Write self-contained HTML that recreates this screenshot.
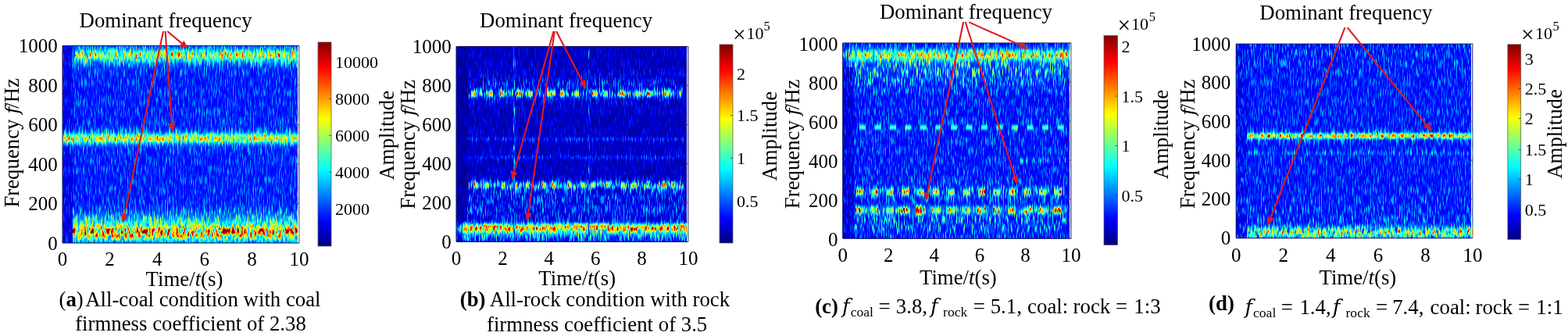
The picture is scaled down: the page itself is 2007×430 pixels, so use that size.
<!DOCTYPE html>
<html><head><meta charset="utf-8"><title>Spectrogram figure</title>
<style>
html,body{margin:0;padding:0;background:#fff;overflow:hidden;}
svg{display:block;}
text{font-family:"Liberation Serif", "Times New Roman", serif;fill:#000;}
.tk{font-size:25px;}
.cb{font-size:22px;}
.lb{font-size:26.8px;}
.sb{font-size:17.6px;}
</style></head><body>
<svg width="2007" height="430" viewBox="0 0 2007 430">
<defs>
<linearGradient id="jet" x1="0" y1="1" x2="0" y2="0"><stop offset="0" stop-color="#000080"/><stop offset="0.125" stop-color="#0000ff"/><stop offset="0.375" stop-color="#00ffff"/><stop offset="0.625" stop-color="#ffff00"/><stop offset="0.875" stop-color="#ff0000"/><stop offset="1" stop-color="#800000"/></linearGradient>
</defs>
<rect width="2007" height="430" fill="#fff"/>

<filter id="fa" filterUnits="userSpaceOnUse" x="80" y="58.5" width="303" height="252.5" color-interpolation-filters="sRGB">
<feTurbulence type="fractalNoise" baseFrequency="0.7 0.08" numOctaves="2" seed="3" result="t"/>
<feColorMatrix in="t" type="matrix" values="1 0 0 0 0 1 0 0 0 0 1 0 0 0 0 0 0 0 0 1" result="n"/>
<feComponentTransfer in="n" result="ns"><feFuncR type="linear" slope="2.5" intercept="-0.75"/><feFuncG type="linear" slope="2.5" intercept="-0.75"/><feFuncB type="linear" slope="2.5" intercept="-0.75"/></feComponentTransfer>
<feComponentTransfer in="ns" result="ng"><feFuncR type="gamma" exponent="2.5"/><feFuncG type="gamma" exponent="2.5"/><feFuncB type="gamma" exponent="2.5"/></feComponentTransfer>
<feColorMatrix in="SourceGraphic" type="matrix" values="1 0 0 0 0 1 0 0 0 0 1 0 0 0 0 0 0 0 1 0" result="sa"/>
<feColorMatrix in="SourceGraphic" type="matrix" values="0 1 0 0 0 0 1 0 0 0 0 1 0 0 0 0 0 0 1 0" result="sb"/>
<feComposite in="sb" in2="ng" operator="arithmetic" k1="1" k2="0" k3="0" k4="0" result="pb"/>
<feComposite in="sa" in2="pb" operator="arithmetic" k1="0" k2="1" k3="1" k4="0" result="I1"/>
<feTurbulence type="fractalNoise" baseFrequency="0.35 0.12" numOctaves="2" seed="53" result="t2"/>
<feColorMatrix in="t2" type="matrix" values="1 0 0 0 0 1 0 0 0 0 1 0 0 0 0 0 0 0 0 1" result="n2"/>
<feComponentTransfer in="n2" result="ns2"><feFuncR type="linear" slope="2.5" intercept="-0.75"/><feFuncG type="linear" slope="2.5" intercept="-0.75"/><feFuncB type="linear" slope="2.5" intercept="-0.75"/></feComponentTransfer>
<feColorMatrix in="SourceGraphic" type="matrix" values="0 0 1 0 0 0 0 1 0 0 0 0 1 0 0 0 0 0 1 0" result="sc"/>
<feComposite in="sc" in2="ns2" operator="arithmetic" k1="1" k2="0" k3="0" k4="0" result="pc"/>
<feComposite in="I1" in2="pc" operator="arithmetic" k1="0" k2="1" k3="1" k4="0" result="I"/>
<feComponentTransfer in="I"><feFuncR type="table" tableValues="0 0 0 0 0.5 1 1 1 0.5"/><feFuncG type="table" tableValues="0 0 0.5 1 1 1 0.5 0 0"/><feFuncB type="table" tableValues="0.5 1 1 1 0.5 0 0 0 0"/></feComponentTransfer>
<feGaussianBlur stdDeviation="0.55"/>
</filter>
<g filter="url(#fa)">
<rect x="80" y="58.5" width="303" height="252.5" fill="#1f2a00"/>
<rect x="80" y="58.5" width="13" height="252.5" fill="#121f00" opacity="0.8"/>
<linearGradient id="ga0" gradientUnits="userSpaceOnUse" x1="0" y1="45" x2="0" y2="99"><stop offset="0.000" stop-color="#2e5700" stop-opacity="0.011"/><stop offset="0.083" stop-color="#2e5700" stop-opacity="0.044"/><stop offset="0.167" stop-color="#2e5700" stop-opacity="0.135"/><stop offset="0.250" stop-color="#2e5700" stop-opacity="0.325"/><stop offset="0.333" stop-color="#2e5700" stop-opacity="0.607"/><stop offset="0.417" stop-color="#2e5700" stop-opacity="0.882"/><stop offset="0.500" stop-color="#2e5700" stop-opacity="1.000"/><stop offset="0.583" stop-color="#2e5700" stop-opacity="0.882"/><stop offset="0.667" stop-color="#2e5700" stop-opacity="0.607"/><stop offset="0.750" stop-color="#2e5700" stop-opacity="0.325"/><stop offset="0.833" stop-color="#2e5700" stop-opacity="0.135"/><stop offset="0.917" stop-color="#2e5700" stop-opacity="0.044"/><stop offset="1.000" stop-color="#2e5700" stop-opacity="0.011"/></linearGradient>
<rect x="92" y="45" width="291" height="54" fill="url(#ga0)"/>
<linearGradient id="ga1" gradientUnits="userSpaceOnUse" x1="0" y1="56" x2="0" y2="86"><stop offset="0.000" stop-color="#455954" stop-opacity="0.011"/><stop offset="0.083" stop-color="#455954" stop-opacity="0.044"/><stop offset="0.167" stop-color="#455954" stop-opacity="0.135"/><stop offset="0.250" stop-color="#455954" stop-opacity="0.325"/><stop offset="0.333" stop-color="#455954" stop-opacity="0.607"/><stop offset="0.417" stop-color="#455954" stop-opacity="0.882"/><stop offset="0.500" stop-color="#455954" stop-opacity="1.000"/><stop offset="0.583" stop-color="#455954" stop-opacity="0.882"/><stop offset="0.667" stop-color="#455954" stop-opacity="0.607"/><stop offset="0.750" stop-color="#455954" stop-opacity="0.325"/><stop offset="0.833" stop-color="#455954" stop-opacity="0.135"/><stop offset="0.917" stop-color="#455954" stop-opacity="0.044"/><stop offset="1.000" stop-color="#455954" stop-opacity="0.011"/></linearGradient>
<rect x="96" y="56" width="287" height="30" fill="url(#ga1)"/>
<linearGradient id="ga2" gradientUnits="userSpaceOnUse" x1="0" y1="156" x2="0" y2="198"><stop offset="0.000" stop-color="#305400" stop-opacity="0.011"/><stop offset="0.083" stop-color="#305400" stop-opacity="0.044"/><stop offset="0.167" stop-color="#305400" stop-opacity="0.135"/><stop offset="0.250" stop-color="#305400" stop-opacity="0.325"/><stop offset="0.333" stop-color="#305400" stop-opacity="0.607"/><stop offset="0.417" stop-color="#305400" stop-opacity="0.882"/><stop offset="0.500" stop-color="#305400" stop-opacity="1.000"/><stop offset="0.583" stop-color="#305400" stop-opacity="0.882"/><stop offset="0.667" stop-color="#305400" stop-opacity="0.607"/><stop offset="0.750" stop-color="#305400" stop-opacity="0.325"/><stop offset="0.833" stop-color="#305400" stop-opacity="0.135"/><stop offset="0.917" stop-color="#305400" stop-opacity="0.044"/><stop offset="1.000" stop-color="#305400" stop-opacity="0.011"/></linearGradient>
<rect x="80" y="156" width="303" height="42" fill="url(#ga2)"/>
<linearGradient id="ga3" gradientUnits="userSpaceOnUse" x1="0" y1="165.6" x2="0" y2="188.4"><stop offset="0.000" stop-color="#4c406b" stop-opacity="0.011"/><stop offset="0.083" stop-color="#4c406b" stop-opacity="0.044"/><stop offset="0.167" stop-color="#4c406b" stop-opacity="0.135"/><stop offset="0.250" stop-color="#4c406b" stop-opacity="0.325"/><stop offset="0.333" stop-color="#4c406b" stop-opacity="0.607"/><stop offset="0.417" stop-color="#4c406b" stop-opacity="0.882"/><stop offset="0.500" stop-color="#4c406b" stop-opacity="1.000"/><stop offset="0.583" stop-color="#4c406b" stop-opacity="0.882"/><stop offset="0.667" stop-color="#4c406b" stop-opacity="0.607"/><stop offset="0.750" stop-color="#4c406b" stop-opacity="0.325"/><stop offset="0.833" stop-color="#4c406b" stop-opacity="0.135"/><stop offset="0.917" stop-color="#4c406b" stop-opacity="0.044"/><stop offset="1.000" stop-color="#4c406b" stop-opacity="0.011"/></linearGradient>
<rect x="80" y="165.6" width="303" height="22.8" fill="url(#ga3)"/>
<linearGradient id="ga4" gradientUnits="userSpaceOnUse" x1="0" y1="256" x2="0" y2="310"><stop offset="0.000" stop-color="#336b00" stop-opacity="0.011"/><stop offset="0.083" stop-color="#336b00" stop-opacity="0.044"/><stop offset="0.167" stop-color="#336b00" stop-opacity="0.135"/><stop offset="0.250" stop-color="#336b00" stop-opacity="0.325"/><stop offset="0.333" stop-color="#336b00" stop-opacity="0.607"/><stop offset="0.417" stop-color="#336b00" stop-opacity="0.882"/><stop offset="0.500" stop-color="#336b00" stop-opacity="1.000"/><stop offset="0.583" stop-color="#336b00" stop-opacity="0.882"/><stop offset="0.667" stop-color="#336b00" stop-opacity="0.607"/><stop offset="0.750" stop-color="#336b00" stop-opacity="0.325"/><stop offset="0.833" stop-color="#336b00" stop-opacity="0.135"/><stop offset="0.917" stop-color="#336b00" stop-opacity="0.044"/><stop offset="1.000" stop-color="#336b00" stop-opacity="0.011"/></linearGradient>
<rect x="93" y="256" width="290" height="54" fill="url(#ga4)"/>
<linearGradient id="ga5" gradientUnits="userSpaceOnUse" x1="0" y1="274.5" x2="0" y2="319.5"><stop offset="0.000" stop-color="#5400b8" stop-opacity="0.011"/><stop offset="0.083" stop-color="#5400b8" stop-opacity="0.044"/><stop offset="0.167" stop-color="#5400b8" stop-opacity="0.135"/><stop offset="0.250" stop-color="#5400b8" stop-opacity="0.325"/><stop offset="0.333" stop-color="#5400b8" stop-opacity="0.607"/><stop offset="0.417" stop-color="#5400b8" stop-opacity="0.882"/><stop offset="0.500" stop-color="#5400b8" stop-opacity="1.000"/><stop offset="0.583" stop-color="#5400b8" stop-opacity="0.882"/><stop offset="0.667" stop-color="#5400b8" stop-opacity="0.607"/><stop offset="0.750" stop-color="#5400b8" stop-opacity="0.325"/><stop offset="0.833" stop-color="#5400b8" stop-opacity="0.135"/><stop offset="0.917" stop-color="#5400b8" stop-opacity="0.044"/><stop offset="1.000" stop-color="#5400b8" stop-opacity="0.011"/></linearGradient>
<rect x="93" y="274.5" width="290" height="45" fill="url(#ga5)"/>
</g>
<rect x="381" y="58.5" width="1.2" height="252.5" fill="#f4f6fb"/>
<path d="M383,58.5 L80,58.5 L80,311 L383,311" fill="none" stroke="#14145a" stroke-width="1"/>
<line x1="383" y1="58" x2="383" y2="311.5" stroke="#7a7a7a" stroke-width="1.1"/>
<line x1="380" y1="260.5" x2="383" y2="260.5" stroke="#505050" stroke-width="1"/>
<line x1="380" y1="210" x2="383" y2="210" stroke="#505050" stroke-width="1"/>
<line x1="380" y1="159.5" x2="383" y2="159.5" stroke="#505050" stroke-width="1"/>
<line x1="380" y1="109" x2="383" y2="109" stroke="#505050" stroke-width="1"/>
<text class="tk" x="80" y="340.1" text-anchor="middle">0</text>
<text class="tk" x="140.6" y="340.1" text-anchor="middle">2</text>
<text class="tk" x="201.2" y="340.1" text-anchor="middle">4</text>
<text class="tk" x="261.8" y="340.1" text-anchor="middle">6</text>
<text class="tk" x="322.4" y="340.1" text-anchor="middle">8</text>
<text class="tk" x="383" y="340.1" text-anchor="middle">10</text>
<text class="tk" x="73.8" y="319.8" text-anchor="end">0</text>
<text class="tk" x="73.8" y="269.3" text-anchor="end">200</text>
<text class="tk" x="73.8" y="218.8" text-anchor="end">400</text>
<text class="tk" x="73.8" y="168.3" text-anchor="end">600</text>
<text class="tk" x="73.8" y="117.8" text-anchor="end">800</text>
<text class="tk" x="73.8" y="67.3" text-anchor="end">1000</text>
<rect x="407" y="54" width="17" height="261" fill="url(#jet)" stroke="#505050" stroke-width="0.7"/>
<line x1="421" y1="267.2" x2="424" y2="267.2" stroke="#333" stroke-width="0.8"/>
<text class="cb" x="429" y="274.7">2000</text>
<line x1="421" y1="220.3" x2="424" y2="220.3" stroke="#333" stroke-width="0.8"/>
<text class="cb" x="429" y="227.8">4000</text>
<line x1="421" y1="173.3" x2="424" y2="173.3" stroke="#333" stroke-width="0.8"/>
<text class="cb" x="429" y="180.8">6000</text>
<line x1="421" y1="126.4" x2="424" y2="126.4" stroke="#333" stroke-width="0.8"/>
<text class="cb" x="429" y="133.9">8000</text>
<line x1="421" y1="79.4" x2="424" y2="79.4" stroke="#333" stroke-width="0.8"/>
<text class="cb" x="429" y="86.9">10000</text>
<text class="lb" x="101.6" y="35.4">Dominant frequency</text>
<text class="lb" x="186.6" y="366">Time/<tspan font-style="italic">t</tspan>(s)</text>
<text class="lb" transform="translate(23.6,265.6) rotate(-90)">Frequency <tspan font-style="italic" style="font-family:&quot;DejaVu Serif&quot;, serif;font-size:24.5px">f</tspan><tspan dx="-2">/Hz</tspan></text>
<text class="lb" transform="translate(503.6,230.5) rotate(-90)">Amplitude</text>
<line x1="209" y1="40" x2="158.82" y2="276.89" stroke="#df1a22" stroke-width="2.1"/><path d="M157,285.5 L154.88,273.81 L163.68,275.67 Z" fill="#df1a22"/>
<line x1="211.6" y1="40" x2="220.08" y2="160.22" stroke="#df1a22" stroke-width="2.1"/><path d="M220.7,169 L215.44,158.34 L224.41,157.71 Z" fill="#df1a22"/>
<line x1="214.3" y1="40" x2="234.28" y2="56.91" stroke="#df1a22" stroke-width="2.1"/><path d="M241,62.6 L229.7,58.93 L235.51,52.06 Z" fill="#df1a22"/>
<filter id="fb" filterUnits="userSpaceOnUse" x="584" y="59.5" width="297" height="249.8" color-interpolation-filters="sRGB">
<feTurbulence type="fractalNoise" baseFrequency="0.7 0.08" numOctaves="2" seed="7" result="t"/>
<feColorMatrix in="t" type="matrix" values="1 0 0 0 0 1 0 0 0 0 1 0 0 0 0 0 0 0 0 1" result="n"/>
<feComponentTransfer in="n" result="ns"><feFuncR type="linear" slope="2.5" intercept="-0.75"/><feFuncG type="linear" slope="2.5" intercept="-0.75"/><feFuncB type="linear" slope="2.5" intercept="-0.75"/></feComponentTransfer>
<feComponentTransfer in="ns" result="ng"><feFuncR type="gamma" exponent="2"/><feFuncG type="gamma" exponent="2"/><feFuncB type="gamma" exponent="2"/></feComponentTransfer>
<feColorMatrix in="SourceGraphic" type="matrix" values="1 0 0 0 0 1 0 0 0 0 1 0 0 0 0 0 0 0 1 0" result="sa"/>
<feColorMatrix in="SourceGraphic" type="matrix" values="0 1 0 0 0 0 1 0 0 0 0 1 0 0 0 0 0 0 1 0" result="sb"/>
<feComposite in="sb" in2="ng" operator="arithmetic" k1="1" k2="0" k3="0" k4="0" result="pb"/>
<feComposite in="sa" in2="pb" operator="arithmetic" k1="0" k2="1" k3="1" k4="0" result="I1"/>
<feTurbulence type="fractalNoise" baseFrequency="0.35 0.12" numOctaves="2" seed="57" result="t2"/>
<feColorMatrix in="t2" type="matrix" values="1 0 0 0 0 1 0 0 0 0 1 0 0 0 0 0 0 0 0 1" result="n2"/>
<feComponentTransfer in="n2" result="ns2"><feFuncR type="linear" slope="2.5" intercept="-0.75"/><feFuncG type="linear" slope="2.5" intercept="-0.75"/><feFuncB type="linear" slope="2.5" intercept="-0.75"/></feComponentTransfer>
<feColorMatrix in="SourceGraphic" type="matrix" values="0 0 1 0 0 0 0 1 0 0 0 0 1 0 0 0 0 0 1 0" result="sc"/>
<feComposite in="sc" in2="ns2" operator="arithmetic" k1="1" k2="0" k3="0" k4="0" result="pc"/>
<feComposite in="I1" in2="pc" operator="arithmetic" k1="0" k2="1" k3="1" k4="0" result="I"/>
<feComponentTransfer in="I"><feFuncR type="table" tableValues="0 0 0 0 0.5 1 1 1 0.5"/><feFuncG type="table" tableValues="0 0 0.5 1 1 1 0.5 0 0"/><feFuncB type="table" tableValues="0.5 1 1 1 0.5 0 0 0 0"/></feComponentTransfer>
<feGaussianBlur stdDeviation="0.55"/>
</filter>
<g filter="url(#fb)">
<rect x="584" y="59.5" width="297" height="249.8" fill="#081f00"/>
<linearGradient id="gb0" gradientUnits="userSpaceOnUse" x1="0" y1="81" x2="0" y2="147"><stop offset="0.000" stop-color="#0a4c00" stop-opacity="0.011"/><stop offset="0.083" stop-color="#0a4c00" stop-opacity="0.044"/><stop offset="0.167" stop-color="#0a4c00" stop-opacity="0.135"/><stop offset="0.250" stop-color="#0a4c00" stop-opacity="0.325"/><stop offset="0.333" stop-color="#0a4c00" stop-opacity="0.607"/><stop offset="0.417" stop-color="#0a4c00" stop-opacity="0.882"/><stop offset="0.500" stop-color="#0a4c00" stop-opacity="1.000"/><stop offset="0.583" stop-color="#0a4c00" stop-opacity="0.882"/><stop offset="0.667" stop-color="#0a4c00" stop-opacity="0.607"/><stop offset="0.750" stop-color="#0a4c00" stop-opacity="0.325"/><stop offset="0.833" stop-color="#0a4c00" stop-opacity="0.135"/><stop offset="0.917" stop-color="#0a4c00" stop-opacity="0.044"/><stop offset="1.000" stop-color="#0a4c00" stop-opacity="0.011"/></linearGradient>
<rect x="600" y="81" width="275" height="66" fill="url(#gb0)"/>
<linearGradient id="gb1" gradientUnits="userSpaceOnUse" x1="0" y1="111.6" x2="0" y2="128.4"><stop offset="0.000" stop-color="#1f8c00" stop-opacity="0.011"/><stop offset="0.083" stop-color="#1f8c00" stop-opacity="0.044"/><stop offset="0.167" stop-color="#1f8c00" stop-opacity="0.135"/><stop offset="0.250" stop-color="#1f8c00" stop-opacity="0.325"/><stop offset="0.333" stop-color="#1f8c00" stop-opacity="0.607"/><stop offset="0.417" stop-color="#1f8c00" stop-opacity="0.882"/><stop offset="0.500" stop-color="#1f8c00" stop-opacity="1.000"/><stop offset="0.583" stop-color="#1f8c00" stop-opacity="0.882"/><stop offset="0.667" stop-color="#1f8c00" stop-opacity="0.607"/><stop offset="0.750" stop-color="#1f8c00" stop-opacity="0.325"/><stop offset="0.833" stop-color="#1f8c00" stop-opacity="0.135"/><stop offset="0.917" stop-color="#1f8c00" stop-opacity="0.044"/><stop offset="1.000" stop-color="#1f8c00" stop-opacity="0.011"/></linearGradient>
<rect x="600" y="111.6" width="275" height="16.8" fill="url(#gb1)"/>
<linearGradient id="gb2" gradientUnits="userSpaceOnUse" x1="0" y1="98" x2="0" y2="120"><stop offset="0" stop-color="#1a7300" stop-opacity="0"/><stop offset="1" stop-color="#1a7300" stop-opacity="1"/></linearGradient>
<rect x="611" y="98" width="1.6" height="22" fill="url(#gb2)"/>
<linearGradient id="gb3" gradientUnits="userSpaceOnUse" x1="0" y1="90" x2="0" y2="120"><stop offset="0" stop-color="#1a7300" stop-opacity="0"/><stop offset="1" stop-color="#1a7300" stop-opacity="1"/></linearGradient>
<rect x="627" y="90" width="1.6" height="30" fill="url(#gb3)"/>
<linearGradient id="gb4" gradientUnits="userSpaceOnUse" x1="0" y1="108" x2="0" y2="120"><stop offset="0" stop-color="#1a7300" stop-opacity="0"/><stop offset="1" stop-color="#1a7300" stop-opacity="1"/></linearGradient>
<rect x="641" y="108" width="1.6" height="12" fill="url(#gb4)"/>
<linearGradient id="gb5" gradientUnits="userSpaceOnUse" x1="0" y1="102" x2="0" y2="120"><stop offset="0" stop-color="#1a7300" stop-opacity="0"/><stop offset="1" stop-color="#1a7300" stop-opacity="1"/></linearGradient>
<rect x="662" y="102" width="1.6" height="18" fill="url(#gb5)"/>
<linearGradient id="gb6" gradientUnits="userSpaceOnUse" x1="0" y1="95" x2="0" y2="120"><stop offset="0" stop-color="#1a7300" stop-opacity="0"/><stop offset="1" stop-color="#1a7300" stop-opacity="1"/></linearGradient>
<rect x="671" y="95" width="1.6" height="25" fill="url(#gb6)"/>
<linearGradient id="gb7" gradientUnits="userSpaceOnUse" x1="0" y1="105" x2="0" y2="120"><stop offset="0" stop-color="#1a7300" stop-opacity="0"/><stop offset="1" stop-color="#1a7300" stop-opacity="1"/></linearGradient>
<rect x="688" y="105" width="1.6" height="15" fill="url(#gb7)"/>
<linearGradient id="gb8" gradientUnits="userSpaceOnUse" x1="0" y1="100" x2="0" y2="120"><stop offset="0" stop-color="#1a7300" stop-opacity="0"/><stop offset="1" stop-color="#1a7300" stop-opacity="1"/></linearGradient>
<rect x="700" y="100" width="1.6" height="20" fill="url(#gb8)"/>
<linearGradient id="gb9" gradientUnits="userSpaceOnUse" x1="0" y1="92" x2="0" y2="120"><stop offset="0" stop-color="#1a7300" stop-opacity="0"/><stop offset="1" stop-color="#1a7300" stop-opacity="1"/></linearGradient>
<rect x="733" y="92" width="1.6" height="28" fill="url(#gb9)"/>
<linearGradient id="gb10" gradientUnits="userSpaceOnUse" x1="0" y1="106" x2="0" y2="120"><stop offset="0" stop-color="#1a7300" stop-opacity="0"/><stop offset="1" stop-color="#1a7300" stop-opacity="1"/></linearGradient>
<rect x="748" y="106" width="1.6" height="14" fill="url(#gb10)"/>
<linearGradient id="gb11" gradientUnits="userSpaceOnUse" x1="0" y1="90" x2="0" y2="120"><stop offset="0" stop-color="#1a7300" stop-opacity="0"/><stop offset="1" stop-color="#1a7300" stop-opacity="1"/></linearGradient>
<rect x="770" y="90" width="1.6" height="30" fill="url(#gb11)"/>
<linearGradient id="gb12" gradientUnits="userSpaceOnUse" x1="0" y1="96" x2="0" y2="120"><stop offset="0" stop-color="#1a7300" stop-opacity="0"/><stop offset="1" stop-color="#1a7300" stop-opacity="1"/></linearGradient>
<rect x="795" y="96" width="1.6" height="24" fill="url(#gb12)"/>
<linearGradient id="gb13" gradientUnits="userSpaceOnUse" x1="0" y1="102" x2="0" y2="120"><stop offset="0" stop-color="#1a7300" stop-opacity="0"/><stop offset="1" stop-color="#1a7300" stop-opacity="1"/></linearGradient>
<rect x="808" y="102" width="1.6" height="18" fill="url(#gb13)"/>
<linearGradient id="gb14" gradientUnits="userSpaceOnUse" x1="0" y1="98" x2="0" y2="120"><stop offset="0" stop-color="#1a7300" stop-opacity="0"/><stop offset="1" stop-color="#1a7300" stop-opacity="1"/></linearGradient>
<rect x="836" y="98" width="1.6" height="22" fill="url(#gb14)"/>
<linearGradient id="gb15" gradientUnits="userSpaceOnUse" x1="0" y1="104" x2="0" y2="120"><stop offset="0" stop-color="#1a7300" stop-opacity="0"/><stop offset="1" stop-color="#1a7300" stop-opacity="1"/></linearGradient>
<rect x="853" y="104" width="1.6" height="16" fill="url(#gb15)"/>
<linearGradient id="gb16" gradientUnits="userSpaceOnUse" x1="0" y1="112.2" x2="0" y2="127.8"><stop offset="0.000" stop-color="#808000" stop-opacity="0.011"/><stop offset="0.083" stop-color="#808000" stop-opacity="0.044"/><stop offset="0.167" stop-color="#808000" stop-opacity="0.135"/><stop offset="0.250" stop-color="#808000" stop-opacity="0.325"/><stop offset="0.333" stop-color="#808000" stop-opacity="0.607"/><stop offset="0.417" stop-color="#808000" stop-opacity="0.882"/><stop offset="0.500" stop-color="#808000" stop-opacity="1.000"/><stop offset="0.583" stop-color="#808000" stop-opacity="0.882"/><stop offset="0.667" stop-color="#808000" stop-opacity="0.607"/><stop offset="0.750" stop-color="#808000" stop-opacity="0.325"/><stop offset="0.833" stop-color="#808000" stop-opacity="0.135"/><stop offset="0.917" stop-color="#808000" stop-opacity="0.044"/><stop offset="1.000" stop-color="#808000" stop-opacity="0.011"/></linearGradient>
<rect x="603" y="112.2" width="6" height="15.6" rx="2" fill="url(#gb16)"/>
<rect x="625" y="112.2" width="6" height="15.6" rx="2" fill="url(#gb16)"/>
<rect x="639" y="112.2" width="6" height="15.6" rx="2" fill="url(#gb16)"/>
<rect x="661" y="112.2" width="6" height="15.6" rx="2" fill="url(#gb16)"/>
<rect x="676" y="112.2" width="6" height="15.6" rx="2" fill="url(#gb16)"/>
<rect x="700" y="112.2" width="6" height="15.6" rx="2" fill="url(#gb16)"/>
<rect x="717" y="112.2" width="6" height="15.6" rx="2" fill="url(#gb16)"/>
<rect x="735" y="112.2" width="6" height="15.6" rx="2" fill="url(#gb16)"/>
<rect x="758" y="112.2" width="6" height="15.6" rx="2" fill="url(#gb16)"/>
<rect x="772" y="112.2" width="6" height="15.6" rx="2" fill="url(#gb16)"/>
<rect x="794" y="112.2" width="6" height="15.6" rx="2" fill="url(#gb16)"/>
<rect x="814" y="112.2" width="6" height="15.6" rx="2" fill="url(#gb16)"/>
<rect x="828" y="112.2" width="6" height="15.6" rx="2" fill="url(#gb16)"/>
<rect x="850" y="112.2" width="6" height="15.6" rx="2" fill="url(#gb16)"/>
<rect x="871" y="112.2" width="1" height="15.6" rx="2" fill="url(#gb16)"/>
<linearGradient id="gb17" gradientUnits="userSpaceOnUse" x1="0" y1="217" x2="0" y2="277"><stop offset="0.000" stop-color="#0d4c00" stop-opacity="0.011"/><stop offset="0.083" stop-color="#0d4c00" stop-opacity="0.044"/><stop offset="0.167" stop-color="#0d4c00" stop-opacity="0.135"/><stop offset="0.250" stop-color="#0d4c00" stop-opacity="0.325"/><stop offset="0.333" stop-color="#0d4c00" stop-opacity="0.607"/><stop offset="0.417" stop-color="#0d4c00" stop-opacity="0.882"/><stop offset="0.500" stop-color="#0d4c00" stop-opacity="1.000"/><stop offset="0.583" stop-color="#0d4c00" stop-opacity="0.882"/><stop offset="0.667" stop-color="#0d4c00" stop-opacity="0.607"/><stop offset="0.750" stop-color="#0d4c00" stop-opacity="0.325"/><stop offset="0.833" stop-color="#0d4c00" stop-opacity="0.135"/><stop offset="0.917" stop-color="#0d4c00" stop-opacity="0.044"/><stop offset="1.000" stop-color="#0d4c00" stop-opacity="0.011"/></linearGradient>
<rect x="600" y="217" width="276" height="60" fill="url(#gb17)"/>
<linearGradient id="gb18" gradientUnits="userSpaceOnUse" x1="0" y1="228" x2="0" y2="246"><stop offset="0.000" stop-color="#249900" stop-opacity="0.011"/><stop offset="0.083" stop-color="#249900" stop-opacity="0.044"/><stop offset="0.167" stop-color="#249900" stop-opacity="0.135"/><stop offset="0.250" stop-color="#249900" stop-opacity="0.325"/><stop offset="0.333" stop-color="#249900" stop-opacity="0.607"/><stop offset="0.417" stop-color="#249900" stop-opacity="0.882"/><stop offset="0.500" stop-color="#249900" stop-opacity="1.000"/><stop offset="0.583" stop-color="#249900" stop-opacity="0.882"/><stop offset="0.667" stop-color="#249900" stop-opacity="0.607"/><stop offset="0.750" stop-color="#249900" stop-opacity="0.325"/><stop offset="0.833" stop-color="#249900" stop-opacity="0.135"/><stop offset="0.917" stop-color="#249900" stop-opacity="0.044"/><stop offset="1.000" stop-color="#249900" stop-opacity="0.011"/></linearGradient>
<rect x="600" y="228" width="276" height="18" fill="url(#gb18)"/>
<linearGradient id="gb19" gradientUnits="userSpaceOnUse" x1="0" y1="237" x2="0" y2="252"><stop offset="0" stop-color="#1a7300" stop-opacity="1"/><stop offset="1" stop-color="#1a7300" stop-opacity="0"/></linearGradient>
<rect x="616" y="237" width="1.6" height="15" fill="url(#gb19)"/>
<linearGradient id="gb20" gradientUnits="userSpaceOnUse" x1="0" y1="237" x2="0" y2="257"><stop offset="0" stop-color="#1a7300" stop-opacity="1"/><stop offset="1" stop-color="#1a7300" stop-opacity="0"/></linearGradient>
<rect x="640" y="237" width="1.6" height="20" fill="url(#gb20)"/>
<linearGradient id="gb21" gradientUnits="userSpaceOnUse" x1="0" y1="237" x2="0" y2="255"><stop offset="0" stop-color="#1a7300" stop-opacity="1"/><stop offset="1" stop-color="#1a7300" stop-opacity="0"/></linearGradient>
<rect x="668" y="237" width="1.6" height="18" fill="url(#gb21)"/>
<linearGradient id="gb22" gradientUnits="userSpaceOnUse" x1="0" y1="237" x2="0" y2="249"><stop offset="0" stop-color="#1a7300" stop-opacity="1"/><stop offset="1" stop-color="#1a7300" stop-opacity="0"/></linearGradient>
<rect x="695" y="237" width="1.6" height="12" fill="url(#gb22)"/>
<linearGradient id="gb23" gradientUnits="userSpaceOnUse" x1="0" y1="237" x2="0" y2="259"><stop offset="0" stop-color="#1a7300" stop-opacity="1"/><stop offset="1" stop-color="#1a7300" stop-opacity="0"/></linearGradient>
<rect x="720" y="237" width="1.6" height="22" fill="url(#gb23)"/>
<linearGradient id="gb24" gradientUnits="userSpaceOnUse" x1="0" y1="237" x2="0" y2="253"><stop offset="0" stop-color="#1a7300" stop-opacity="1"/><stop offset="1" stop-color="#1a7300" stop-opacity="0"/></linearGradient>
<rect x="744" y="237" width="1.6" height="16" fill="url(#gb24)"/>
<linearGradient id="gb25" gradientUnits="userSpaceOnUse" x1="0" y1="237" x2="0" y2="251"><stop offset="0" stop-color="#1a7300" stop-opacity="1"/><stop offset="1" stop-color="#1a7300" stop-opacity="0"/></linearGradient>
<rect x="781" y="237" width="1.6" height="14" fill="url(#gb25)"/>
<linearGradient id="gb26" gradientUnits="userSpaceOnUse" x1="0" y1="237" x2="0" y2="257"><stop offset="0" stop-color="#1a7300" stop-opacity="1"/><stop offset="1" stop-color="#1a7300" stop-opacity="0"/></linearGradient>
<rect x="806" y="237" width="1.6" height="20" fill="url(#gb26)"/>
<linearGradient id="gb27" gradientUnits="userSpaceOnUse" x1="0" y1="237" x2="0" y2="255"><stop offset="0" stop-color="#1a7300" stop-opacity="1"/><stop offset="1" stop-color="#1a7300" stop-opacity="0"/></linearGradient>
<rect x="839" y="237" width="1.6" height="18" fill="url(#gb27)"/>
<linearGradient id="gb28" gradientUnits="userSpaceOnUse" x1="0" y1="237" x2="0" y2="249"><stop offset="0" stop-color="#1a7300" stop-opacity="1"/><stop offset="1" stop-color="#1a7300" stop-opacity="0"/></linearGradient>
<rect x="860" y="237" width="1.6" height="12" fill="url(#gb28)"/>
<linearGradient id="gb29" gradientUnits="userSpaceOnUse" x1="0" y1="225" x2="0" y2="237"><stop offset="0" stop-color="#1a7300" stop-opacity="0"/><stop offset="1" stop-color="#1a7300" stop-opacity="1"/></linearGradient>
<rect x="622" y="225" width="1.6" height="12" fill="url(#gb29)"/>
<linearGradient id="gb30" gradientUnits="userSpaceOnUse" x1="0" y1="223" x2="0" y2="237"><stop offset="0" stop-color="#1a7300" stop-opacity="0"/><stop offset="1" stop-color="#1a7300" stop-opacity="1"/></linearGradient>
<rect x="655" y="223" width="1.6" height="14" fill="url(#gb30)"/>
<linearGradient id="gb31" gradientUnits="userSpaceOnUse" x1="0" y1="227" x2="0" y2="237"><stop offset="0" stop-color="#1a7300" stop-opacity="0"/><stop offset="1" stop-color="#1a7300" stop-opacity="1"/></linearGradient>
<rect x="683" y="227" width="1.6" height="10" fill="url(#gb31)"/>
<linearGradient id="gb32" gradientUnits="userSpaceOnUse" x1="0" y1="222" x2="0" y2="237"><stop offset="0" stop-color="#1a7300" stop-opacity="0"/><stop offset="1" stop-color="#1a7300" stop-opacity="1"/></linearGradient>
<rect x="748" y="222" width="1.6" height="15" fill="url(#gb32)"/>
<linearGradient id="gb33" gradientUnits="userSpaceOnUse" x1="0" y1="225" x2="0" y2="237"><stop offset="0" stop-color="#1a7300" stop-opacity="0"/><stop offset="1" stop-color="#1a7300" stop-opacity="1"/></linearGradient>
<rect x="786" y="225" width="1.6" height="12" fill="url(#gb33)"/>
<linearGradient id="gb34" gradientUnits="userSpaceOnUse" x1="0" y1="221" x2="0" y2="237"><stop offset="0" stop-color="#1a7300" stop-opacity="0"/><stop offset="1" stop-color="#1a7300" stop-opacity="1"/></linearGradient>
<rect x="812" y="221" width="1.6" height="16" fill="url(#gb34)"/>
<linearGradient id="gb35" gradientUnits="userSpaceOnUse" x1="0" y1="224" x2="0" y2="237"><stop offset="0" stop-color="#1a7300" stop-opacity="0"/><stop offset="1" stop-color="#1a7300" stop-opacity="1"/></linearGradient>
<rect x="846" y="224" width="1.6" height="13" fill="url(#gb35)"/>
<linearGradient id="gb36" gradientUnits="userSpaceOnUse" x1="0" y1="225" x2="0" y2="237"><stop offset="0" stop-color="#1a7300" stop-opacity="0"/><stop offset="1" stop-color="#1a7300" stop-opacity="1"/></linearGradient>
<rect x="871" y="225" width="1.6" height="12" fill="url(#gb36)"/>
<linearGradient id="gb37" gradientUnits="userSpaceOnUse" x1="0" y1="232" x2="0" y2="304"><stop offset="0.000" stop-color="#0f4700" stop-opacity="0.011"/><stop offset="0.083" stop-color="#0f4700" stop-opacity="0.044"/><stop offset="0.167" stop-color="#0f4700" stop-opacity="0.135"/><stop offset="0.250" stop-color="#0f4700" stop-opacity="0.325"/><stop offset="0.333" stop-color="#0f4700" stop-opacity="0.607"/><stop offset="0.417" stop-color="#0f4700" stop-opacity="0.882"/><stop offset="0.500" stop-color="#0f4700" stop-opacity="1.000"/><stop offset="0.583" stop-color="#0f4700" stop-opacity="0.882"/><stop offset="0.667" stop-color="#0f4700" stop-opacity="0.607"/><stop offset="0.750" stop-color="#0f4700" stop-opacity="0.325"/><stop offset="0.833" stop-color="#0f4700" stop-opacity="0.135"/><stop offset="0.917" stop-color="#0f4700" stop-opacity="0.044"/><stop offset="1.000" stop-color="#0f4700" stop-opacity="0.011"/></linearGradient>
<rect x="590" y="232" width="291" height="72" fill="url(#gb37)"/>
<linearGradient id="gb38" gradientUnits="userSpaceOnUse" x1="0" y1="229.2" x2="0" y2="244.8"><stop offset="0.000" stop-color="#7a8000" stop-opacity="0.011"/><stop offset="0.083" stop-color="#7a8000" stop-opacity="0.044"/><stop offset="0.167" stop-color="#7a8000" stop-opacity="0.135"/><stop offset="0.250" stop-color="#7a8000" stop-opacity="0.325"/><stop offset="0.333" stop-color="#7a8000" stop-opacity="0.607"/><stop offset="0.417" stop-color="#7a8000" stop-opacity="0.882"/><stop offset="0.500" stop-color="#7a8000" stop-opacity="1.000"/><stop offset="0.583" stop-color="#7a8000" stop-opacity="0.882"/><stop offset="0.667" stop-color="#7a8000" stop-opacity="0.607"/><stop offset="0.750" stop-color="#7a8000" stop-opacity="0.325"/><stop offset="0.833" stop-color="#7a8000" stop-opacity="0.135"/><stop offset="0.917" stop-color="#7a8000" stop-opacity="0.044"/><stop offset="1.000" stop-color="#7a8000" stop-opacity="0.011"/></linearGradient>
<rect x="607" y="229.2" width="5" height="15.6" rx="2" fill="url(#gb38)"/>
<rect x="620" y="229.2" width="5" height="15.6" rx="2" fill="url(#gb38)"/>
<rect x="642" y="229.2" width="5" height="15.6" rx="2" fill="url(#gb38)"/>
<rect x="657" y="229.2" width="5" height="15.6" rx="2" fill="url(#gb38)"/>
<rect x="673" y="229.2" width="5" height="15.6" rx="2" fill="url(#gb38)"/>
<rect x="694" y="229.2" width="5" height="15.6" rx="2" fill="url(#gb38)"/>
<rect x="706" y="229.2" width="5" height="15.6" rx="2" fill="url(#gb38)"/>
<rect x="726" y="229.2" width="5" height="15.6" rx="2" fill="url(#gb38)"/>
<rect x="744" y="229.2" width="5" height="15.6" rx="2" fill="url(#gb38)"/>
<rect x="756" y="229.2" width="5" height="15.6" rx="2" fill="url(#gb38)"/>
<rect x="776" y="229.2" width="5" height="15.6" rx="2" fill="url(#gb38)"/>
<rect x="795" y="229.2" width="5" height="15.6" rx="2" fill="url(#gb38)"/>
<rect x="809" y="229.2" width="5" height="15.6" rx="2" fill="url(#gb38)"/>
<rect x="827" y="229.2" width="5" height="15.6" rx="2" fill="url(#gb38)"/>
<rect x="847" y="229.2" width="5" height="15.6" rx="2" fill="url(#gb38)"/>
<rect x="859" y="229.2" width="5" height="15.6" rx="2" fill="url(#gb38)"/>
<linearGradient id="gb39" gradientUnits="userSpaceOnUse" x1="0" y1="279" x2="0" y2="321"><stop offset="0.000" stop-color="#246600" stop-opacity="0.011"/><stop offset="0.083" stop-color="#246600" stop-opacity="0.044"/><stop offset="0.167" stop-color="#246600" stop-opacity="0.135"/><stop offset="0.250" stop-color="#246600" stop-opacity="0.325"/><stop offset="0.333" stop-color="#246600" stop-opacity="0.607"/><stop offset="0.417" stop-color="#246600" stop-opacity="0.882"/><stop offset="0.500" stop-color="#246600" stop-opacity="1.000"/><stop offset="0.583" stop-color="#246600" stop-opacity="0.882"/><stop offset="0.667" stop-color="#246600" stop-opacity="0.607"/><stop offset="0.750" stop-color="#246600" stop-opacity="0.325"/><stop offset="0.833" stop-color="#246600" stop-opacity="0.135"/><stop offset="0.917" stop-color="#246600" stop-opacity="0.044"/><stop offset="1.000" stop-color="#246600" stop-opacity="0.011"/></linearGradient>
<rect x="584" y="279" width="297" height="42" fill="url(#gb39)"/>
<linearGradient id="gb40" gradientUnits="userSpaceOnUse" x1="0" y1="280" x2="0" y2="304"><stop offset="0.000" stop-color="#543399" stop-opacity="0.011"/><stop offset="0.083" stop-color="#543399" stop-opacity="0.044"/><stop offset="0.167" stop-color="#543399" stop-opacity="0.135"/><stop offset="0.250" stop-color="#543399" stop-opacity="0.325"/><stop offset="0.333" stop-color="#543399" stop-opacity="0.607"/><stop offset="0.417" stop-color="#543399" stop-opacity="0.882"/><stop offset="0.500" stop-color="#543399" stop-opacity="1.000"/><stop offset="0.583" stop-color="#543399" stop-opacity="0.882"/><stop offset="0.667" stop-color="#543399" stop-opacity="0.607"/><stop offset="0.750" stop-color="#543399" stop-opacity="0.325"/><stop offset="0.833" stop-color="#543399" stop-opacity="0.135"/><stop offset="0.917" stop-color="#543399" stop-opacity="0.044"/><stop offset="1.000" stop-color="#543399" stop-opacity="0.011"/></linearGradient>
<rect x="584" y="280" width="297" height="24" fill="url(#gb40)"/>
<linearGradient id="gb41" gradientUnits="userSpaceOnUse" x1="0" y1="172" x2="0" y2="184"><stop offset="0.000" stop-color="#123800" stop-opacity="0.011"/><stop offset="0.083" stop-color="#123800" stop-opacity="0.044"/><stop offset="0.167" stop-color="#123800" stop-opacity="0.135"/><stop offset="0.250" stop-color="#123800" stop-opacity="0.325"/><stop offset="0.333" stop-color="#123800" stop-opacity="0.607"/><stop offset="0.417" stop-color="#123800" stop-opacity="0.882"/><stop offset="0.500" stop-color="#123800" stop-opacity="1.000"/><stop offset="0.583" stop-color="#123800" stop-opacity="0.882"/><stop offset="0.667" stop-color="#123800" stop-opacity="0.607"/><stop offset="0.750" stop-color="#123800" stop-opacity="0.325"/><stop offset="0.833" stop-color="#123800" stop-opacity="0.135"/><stop offset="0.917" stop-color="#123800" stop-opacity="0.044"/><stop offset="1.000" stop-color="#123800" stop-opacity="0.011"/></linearGradient>
<rect x="584" y="172" width="297" height="12" fill="url(#gb41)"/>
<linearGradient id="gb42" gradientUnits="userSpaceOnUse" x1="0" y1="195" x2="0" y2="207"><stop offset="0.000" stop-color="#123800" stop-opacity="0.011"/><stop offset="0.083" stop-color="#123800" stop-opacity="0.044"/><stop offset="0.167" stop-color="#123800" stop-opacity="0.135"/><stop offset="0.250" stop-color="#123800" stop-opacity="0.325"/><stop offset="0.333" stop-color="#123800" stop-opacity="0.607"/><stop offset="0.417" stop-color="#123800" stop-opacity="0.882"/><stop offset="0.500" stop-color="#123800" stop-opacity="1.000"/><stop offset="0.583" stop-color="#123800" stop-opacity="0.882"/><stop offset="0.667" stop-color="#123800" stop-opacity="0.607"/><stop offset="0.750" stop-color="#123800" stop-opacity="0.325"/><stop offset="0.833" stop-color="#123800" stop-opacity="0.135"/><stop offset="0.917" stop-color="#123800" stop-opacity="0.044"/><stop offset="1.000" stop-color="#123800" stop-opacity="0.011"/></linearGradient>
<rect x="584" y="195" width="297" height="12" fill="url(#gb42)"/>
<rect x="657" y="59.5" width="2.5" height="249.8" fill="#1f4700"/>
<rect x="753" y="59.5" width="1.5" height="249.8" fill="#174000"/>
<rect x="584" y="59.5" width="14" height="223.5" fill="#031400" opacity="0.8"/>
<rect x="584" y="283" width="8" height="26.3" fill="#031400" opacity="0.6"/>
<rect x="876" y="59.5" width="5" height="225.5" fill="#051400" opacity="0.7"/>
</g>
<rect x="879" y="59.5" width="1.2" height="249.8" fill="#f4f6fb"/>
<path d="M881,59.5 L584,59.5 L584,309.3 L881,309.3" fill="none" stroke="#14145a" stroke-width="1"/>
<line x1="881" y1="59" x2="881" y2="309.8" stroke="#7a7a7a" stroke-width="1.1"/>
<line x1="878" y1="259.34" x2="881" y2="259.34" stroke="#505050" stroke-width="1"/>
<line x1="878" y1="209.38" x2="881" y2="209.38" stroke="#505050" stroke-width="1"/>
<line x1="878" y1="159.42" x2="881" y2="159.42" stroke="#505050" stroke-width="1"/>
<line x1="878" y1="109.46" x2="881" y2="109.46" stroke="#505050" stroke-width="1"/>
<text class="tk" x="584" y="338.5" text-anchor="middle">0</text>
<text class="tk" x="643.4" y="338.5" text-anchor="middle">2</text>
<text class="tk" x="702.8" y="338.5" text-anchor="middle">4</text>
<text class="tk" x="762.2" y="338.5" text-anchor="middle">6</text>
<text class="tk" x="821.6" y="338.5" text-anchor="middle">8</text>
<text class="tk" x="881" y="338.5" text-anchor="middle">10</text>
<text class="tk" x="577.8" y="318.2" text-anchor="end">0</text>
<text class="tk" x="577.8" y="268.24" text-anchor="end">200</text>
<text class="tk" x="577.8" y="218.28" text-anchor="end">400</text>
<text class="tk" x="577.8" y="168.32" text-anchor="end">600</text>
<text class="tk" x="577.8" y="118.36" text-anchor="end">800</text>
<text class="tk" x="577.8" y="68.4" text-anchor="end">1000</text>
<rect x="921" y="57" width="17" height="254" fill="url(#jet)" stroke="#505050" stroke-width="0.7"/>
<line x1="935" y1="257.2" x2="938" y2="257.2" stroke="#333" stroke-width="0.8"/>
<text class="cb" x="943" y="264.7">0.5</text>
<line x1="935" y1="202.1" x2="938" y2="202.1" stroke="#333" stroke-width="0.8"/>
<text class="cb" x="943" y="209.6">1</text>
<line x1="935" y1="147.7" x2="938" y2="147.7" stroke="#333" stroke-width="0.8"/>
<text class="cb" x="943" y="155.2">1.5</text>
<line x1="935" y1="94" x2="938" y2="94" stroke="#333" stroke-width="0.8"/>
<text class="cb" x="943" y="101.5">2</text>
<text x="938" y="54.1" style="font-size:29.5px">×</text>
<text class="cb" x="955.4" y="49.9">10</text>
<text x="977.6" y="39.3" style="font-size:16.5px">5</text>
<text class="lb" x="614.1" y="35">Dominant frequency</text>
<text class="lb" x="689.3" y="365.3">Time/<tspan font-style="italic">t</tspan>(s)</text>
<text class="lb" transform="translate(530.5,267.7) rotate(-90)">Frequency <tspan font-style="italic" style="font-family:&quot;DejaVu Serif&quot;, serif;font-size:24.5px">f</tspan><tspan dx="-2">/Hz</tspan></text>
<text class="lb" transform="translate(993.5,231.6) rotate(-90)">Amplitude</text>
<line x1="712" y1="40" x2="746.43" y2="105.9" stroke="#df1a22" stroke-width="2.1"/><path d="M750.5,113.7 L741.42,106.03 L749.4,101.87 Z" fill="#df1a22"/>
<line x1="708.6" y1="40" x2="657.58" y2="221.83" stroke="#df1a22" stroke-width="2.1"/><path d="M655.2,230.3 L653.84,218.49 L662.5,220.92 Z" fill="#df1a22"/>
<line x1="709.8" y1="40" x2="675.96" y2="274.69" stroke="#df1a22" stroke-width="2.1"/><path d="M674.7,283.4 L671.82,271.87 L680.72,273.15 Z" fill="#df1a22"/>
<filter id="fc" filterUnits="userSpaceOnUse" x="1078.8" y="55" width="292.2" height="250.1" color-interpolation-filters="sRGB">
<feTurbulence type="fractalNoise" baseFrequency="0.7 0.08" numOctaves="2" seed="11" result="t"/>
<feColorMatrix in="t" type="matrix" values="1 0 0 0 0 1 0 0 0 0 1 0 0 0 0 0 0 0 0 1" result="n"/>
<feComponentTransfer in="n" result="ns"><feFuncR type="linear" slope="2.5" intercept="-0.75"/><feFuncG type="linear" slope="2.5" intercept="-0.75"/><feFuncB type="linear" slope="2.5" intercept="-0.75"/></feComponentTransfer>
<feComponentTransfer in="ns" result="ng"><feFuncR type="gamma" exponent="2.5"/><feFuncG type="gamma" exponent="2.5"/><feFuncB type="gamma" exponent="2.5"/></feComponentTransfer>
<feColorMatrix in="SourceGraphic" type="matrix" values="1 0 0 0 0 1 0 0 0 0 1 0 0 0 0 0 0 0 1 0" result="sa"/>
<feColorMatrix in="SourceGraphic" type="matrix" values="0 1 0 0 0 0 1 0 0 0 0 1 0 0 0 0 0 0 1 0" result="sb"/>
<feComposite in="sb" in2="ng" operator="arithmetic" k1="1" k2="0" k3="0" k4="0" result="pb"/>
<feComposite in="sa" in2="pb" operator="arithmetic" k1="0" k2="1" k3="1" k4="0" result="I1"/>
<feTurbulence type="fractalNoise" baseFrequency="0.35 0.12" numOctaves="2" seed="61" result="t2"/>
<feColorMatrix in="t2" type="matrix" values="1 0 0 0 0 1 0 0 0 0 1 0 0 0 0 0 0 0 0 1" result="n2"/>
<feComponentTransfer in="n2" result="ns2"><feFuncR type="linear" slope="2.5" intercept="-0.75"/><feFuncG type="linear" slope="2.5" intercept="-0.75"/><feFuncB type="linear" slope="2.5" intercept="-0.75"/></feComponentTransfer>
<feColorMatrix in="SourceGraphic" type="matrix" values="0 0 1 0 0 0 0 1 0 0 0 0 1 0 0 0 0 0 1 0" result="sc"/>
<feComposite in="sc" in2="ns2" operator="arithmetic" k1="1" k2="0" k3="0" k4="0" result="pc"/>
<feComposite in="I1" in2="pc" operator="arithmetic" k1="0" k2="1" k3="1" k4="0" result="I"/>
<feComponentTransfer in="I"><feFuncR type="table" tableValues="0 0 0 0 0.5 1 1 1 0.5"/><feFuncG type="table" tableValues="0 0 0.5 1 1 1 0.5 0 0"/><feFuncB type="table" tableValues="0.5 1 1 1 0.5 0 0 0 0"/></feComponentTransfer>
<feGaussianBlur stdDeviation="0.55"/>
</filter>
<g filter="url(#fc)">
<rect x="1078.8" y="55" width="292.2" height="250.1" fill="#1c2e00"/>
<linearGradient id="gc0" gradientUnits="userSpaceOnUse" x1="0" y1="74" x2="0" y2="122"><stop offset="0" stop-color="#2b8c00" stop-opacity="1"/><stop offset="1" stop-color="#2b8c00" stop-opacity="0"/></linearGradient>
<rect x="1086" y="74" width="285" height="48" fill="url(#gc0)"/>
<linearGradient id="gc1" gradientUnits="userSpaceOnUse" x1="0" y1="44" x2="0" y2="98"><stop offset="0.000" stop-color="#264c00" stop-opacity="0.011"/><stop offset="0.083" stop-color="#264c00" stop-opacity="0.044"/><stop offset="0.167" stop-color="#264c00" stop-opacity="0.135"/><stop offset="0.250" stop-color="#264c00" stop-opacity="0.325"/><stop offset="0.333" stop-color="#264c00" stop-opacity="0.607"/><stop offset="0.417" stop-color="#264c00" stop-opacity="0.882"/><stop offset="0.500" stop-color="#264c00" stop-opacity="1.000"/><stop offset="0.583" stop-color="#264c00" stop-opacity="0.882"/><stop offset="0.667" stop-color="#264c00" stop-opacity="0.607"/><stop offset="0.750" stop-color="#264c00" stop-opacity="0.325"/><stop offset="0.833" stop-color="#264c00" stop-opacity="0.135"/><stop offset="0.917" stop-color="#264c00" stop-opacity="0.044"/><stop offset="1.000" stop-color="#264c00" stop-opacity="0.011"/></linearGradient>
<rect x="1079" y="44" width="292" height="54" fill="url(#gc1)"/>
<linearGradient id="gc2" gradientUnits="userSpaceOnUse" x1="0" y1="57.5" x2="0" y2="84.5"><stop offset="0.000" stop-color="#3d5973" stop-opacity="0.011"/><stop offset="0.083" stop-color="#3d5973" stop-opacity="0.044"/><stop offset="0.167" stop-color="#3d5973" stop-opacity="0.135"/><stop offset="0.250" stop-color="#3d5973" stop-opacity="0.325"/><stop offset="0.333" stop-color="#3d5973" stop-opacity="0.607"/><stop offset="0.417" stop-color="#3d5973" stop-opacity="0.882"/><stop offset="0.500" stop-color="#3d5973" stop-opacity="1.000"/><stop offset="0.583" stop-color="#3d5973" stop-opacity="0.882"/><stop offset="0.667" stop-color="#3d5973" stop-opacity="0.607"/><stop offset="0.750" stop-color="#3d5973" stop-opacity="0.325"/><stop offset="0.833" stop-color="#3d5973" stop-opacity="0.135"/><stop offset="0.917" stop-color="#3d5973" stop-opacity="0.044"/><stop offset="1.000" stop-color="#3d5973" stop-opacity="0.011"/></linearGradient>
<rect x="1086" y="57.5" width="285" height="27" fill="url(#gc2)"/>
<linearGradient id="gc3" gradientUnits="userSpaceOnUse" x1="0" y1="156.1" x2="0" y2="169.9"><stop offset="0.000" stop-color="#701f00" stop-opacity="0.011"/><stop offset="0.083" stop-color="#701f00" stop-opacity="0.044"/><stop offset="0.167" stop-color="#701f00" stop-opacity="0.135"/><stop offset="0.250" stop-color="#701f00" stop-opacity="0.325"/><stop offset="0.333" stop-color="#701f00" stop-opacity="0.607"/><stop offset="0.417" stop-color="#701f00" stop-opacity="0.882"/><stop offset="0.500" stop-color="#701f00" stop-opacity="1.000"/><stop offset="0.583" stop-color="#701f00" stop-opacity="0.882"/><stop offset="0.667" stop-color="#701f00" stop-opacity="0.607"/><stop offset="0.750" stop-color="#701f00" stop-opacity="0.325"/><stop offset="0.833" stop-color="#701f00" stop-opacity="0.135"/><stop offset="0.917" stop-color="#701f00" stop-opacity="0.044"/><stop offset="1.000" stop-color="#701f00" stop-opacity="0.011"/></linearGradient>
<rect x="1100" y="156.1" width="8" height="13.8" rx="2" fill="url(#gc3)"/>
<rect x="1119.5" y="156.1" width="8" height="13.8" rx="2" fill="url(#gc3)"/>
<rect x="1139" y="156.1" width="8" height="13.8" rx="2" fill="url(#gc3)"/>
<rect x="1158.5" y="156.1" width="8" height="13.8" rx="2" fill="url(#gc3)"/>
<rect x="1178" y="156.1" width="8" height="13.8" rx="2" fill="url(#gc3)"/>
<rect x="1197.5" y="156.1" width="8" height="13.8" rx="2" fill="url(#gc3)"/>
<rect x="1217" y="156.1" width="8" height="13.8" rx="2" fill="url(#gc3)"/>
<rect x="1236.5" y="156.1" width="8" height="13.8" rx="2" fill="url(#gc3)"/>
<rect x="1256" y="156.1" width="8" height="13.8" rx="2" fill="url(#gc3)"/>
<rect x="1275.5" y="156.1" width="8" height="13.8" rx="2" fill="url(#gc3)"/>
<rect x="1295" y="156.1" width="8" height="13.8" rx="2" fill="url(#gc3)"/>
<rect x="1314.5" y="156.1" width="8" height="13.8" rx="2" fill="url(#gc3)"/>
<rect x="1334" y="156.1" width="8" height="13.8" rx="2" fill="url(#gc3)"/>
<rect x="1353.5" y="156.1" width="8" height="13.8" rx="2" fill="url(#gc3)"/>
<linearGradient id="gc4" gradientUnits="userSpaceOnUse" x1="0" y1="197.5" x2="0" y2="212.5"><stop offset="0.000" stop-color="#214c00" stop-opacity="0.011"/><stop offset="0.083" stop-color="#214c00" stop-opacity="0.044"/><stop offset="0.167" stop-color="#214c00" stop-opacity="0.135"/><stop offset="0.250" stop-color="#214c00" stop-opacity="0.325"/><stop offset="0.333" stop-color="#214c00" stop-opacity="0.607"/><stop offset="0.417" stop-color="#214c00" stop-opacity="0.882"/><stop offset="0.500" stop-color="#214c00" stop-opacity="1.000"/><stop offset="0.583" stop-color="#214c00" stop-opacity="0.882"/><stop offset="0.667" stop-color="#214c00" stop-opacity="0.607"/><stop offset="0.750" stop-color="#214c00" stop-opacity="0.325"/><stop offset="0.833" stop-color="#214c00" stop-opacity="0.135"/><stop offset="0.917" stop-color="#214c00" stop-opacity="0.044"/><stop offset="1.000" stop-color="#214c00" stop-opacity="0.011"/></linearGradient>
<rect x="1300" y="197.5" width="64" height="15" fill="url(#gc4)"/>
<linearGradient id="gc5" gradientUnits="userSpaceOnUse" x1="0" y1="225" x2="0" y2="267"><stop offset="0.000" stop-color="#214c00" stop-opacity="0.011"/><stop offset="0.083" stop-color="#214c00" stop-opacity="0.044"/><stop offset="0.167" stop-color="#214c00" stop-opacity="0.135"/><stop offset="0.250" stop-color="#214c00" stop-opacity="0.325"/><stop offset="0.333" stop-color="#214c00" stop-opacity="0.607"/><stop offset="0.417" stop-color="#214c00" stop-opacity="0.882"/><stop offset="0.500" stop-color="#214c00" stop-opacity="1.000"/><stop offset="0.583" stop-color="#214c00" stop-opacity="0.882"/><stop offset="0.667" stop-color="#214c00" stop-opacity="0.607"/><stop offset="0.750" stop-color="#214c00" stop-opacity="0.325"/><stop offset="0.833" stop-color="#214c00" stop-opacity="0.135"/><stop offset="0.917" stop-color="#214c00" stop-opacity="0.044"/><stop offset="1.000" stop-color="#214c00" stop-opacity="0.011"/></linearGradient>
<rect x="1094" y="225" width="271" height="42" fill="url(#gc5)"/>
<linearGradient id="gc6" gradientUnits="userSpaceOnUse" x1="0" y1="258" x2="0" y2="282"><stop offset="0.000" stop-color="#3d5900" stop-opacity="0.011"/><stop offset="0.083" stop-color="#3d5900" stop-opacity="0.044"/><stop offset="0.167" stop-color="#3d5900" stop-opacity="0.135"/><stop offset="0.250" stop-color="#3d5900" stop-opacity="0.325"/><stop offset="0.333" stop-color="#3d5900" stop-opacity="0.607"/><stop offset="0.417" stop-color="#3d5900" stop-opacity="0.882"/><stop offset="0.500" stop-color="#3d5900" stop-opacity="1.000"/><stop offset="0.583" stop-color="#3d5900" stop-opacity="0.882"/><stop offset="0.667" stop-color="#3d5900" stop-opacity="0.607"/><stop offset="0.750" stop-color="#3d5900" stop-opacity="0.325"/><stop offset="0.833" stop-color="#3d5900" stop-opacity="0.135"/><stop offset="0.917" stop-color="#3d5900" stop-opacity="0.044"/><stop offset="1.000" stop-color="#3d5900" stop-opacity="0.011"/></linearGradient>
<rect x="1094" y="258" width="271" height="24" fill="url(#gc6)"/>
<linearGradient id="gc7" gradientUnits="userSpaceOnUse" x1="0" y1="255" x2="0" y2="315"><stop offset="0.000" stop-color="#1f5900" stop-opacity="0.011"/><stop offset="0.083" stop-color="#1f5900" stop-opacity="0.044"/><stop offset="0.167" stop-color="#1f5900" stop-opacity="0.135"/><stop offset="0.250" stop-color="#1f5900" stop-opacity="0.325"/><stop offset="0.333" stop-color="#1f5900" stop-opacity="0.607"/><stop offset="0.417" stop-color="#1f5900" stop-opacity="0.882"/><stop offset="0.500" stop-color="#1f5900" stop-opacity="1.000"/><stop offset="0.583" stop-color="#1f5900" stop-opacity="0.882"/><stop offset="0.667" stop-color="#1f5900" stop-opacity="0.607"/><stop offset="0.750" stop-color="#1f5900" stop-opacity="0.325"/><stop offset="0.833" stop-color="#1f5900" stop-opacity="0.135"/><stop offset="0.917" stop-color="#1f5900" stop-opacity="0.044"/><stop offset="1.000" stop-color="#1f5900" stop-opacity="0.011"/></linearGradient>
<rect x="1094" y="255" width="271" height="60" fill="url(#gc7)"/>
<linearGradient id="gc8" gradientUnits="userSpaceOnUse" x1="0" y1="237.6" x2="0" y2="254.4"><stop offset="0.000" stop-color="#808c00" stop-opacity="0.011"/><stop offset="0.083" stop-color="#808c00" stop-opacity="0.044"/><stop offset="0.167" stop-color="#808c00" stop-opacity="0.135"/><stop offset="0.250" stop-color="#808c00" stop-opacity="0.325"/><stop offset="0.333" stop-color="#808c00" stop-opacity="0.607"/><stop offset="0.417" stop-color="#808c00" stop-opacity="0.882"/><stop offset="0.500" stop-color="#808c00" stop-opacity="1.000"/><stop offset="0.583" stop-color="#808c00" stop-opacity="0.882"/><stop offset="0.667" stop-color="#808c00" stop-opacity="0.607"/><stop offset="0.750" stop-color="#808c00" stop-opacity="0.325"/><stop offset="0.833" stop-color="#808c00" stop-opacity="0.135"/><stop offset="0.917" stop-color="#808c00" stop-opacity="0.044"/><stop offset="1.000" stop-color="#808c00" stop-opacity="0.011"/></linearGradient>
<rect x="1096" y="237.6" width="9" height="16.8" rx="2" fill="url(#gc8)"/>
<rect x="1115.5" y="237.6" width="9" height="16.8" rx="2" fill="url(#gc8)"/>
<rect x="1135" y="237.6" width="9" height="16.8" rx="2" fill="url(#gc8)"/>
<rect x="1154.5" y="237.6" width="9" height="16.8" rx="2" fill="url(#gc8)"/>
<rect x="1174" y="237.6" width="9" height="16.8" rx="2" fill="url(#gc8)"/>
<rect x="1193.5" y="237.6" width="9" height="16.8" rx="2" fill="url(#gc8)"/>
<rect x="1213" y="237.6" width="9" height="16.8" rx="2" fill="url(#gc8)"/>
<rect x="1232.5" y="237.6" width="9" height="16.8" rx="2" fill="url(#gc8)"/>
<rect x="1252" y="237.6" width="9" height="16.8" rx="2" fill="url(#gc8)"/>
<rect x="1271.5" y="237.6" width="9" height="16.8" rx="2" fill="url(#gc8)"/>
<rect x="1291" y="237.6" width="9" height="16.8" rx="2" fill="url(#gc8)"/>
<rect x="1310.5" y="237.6" width="9" height="16.8" rx="2" fill="url(#gc8)"/>
<rect x="1330" y="237.6" width="9" height="16.8" rx="2" fill="url(#gc8)"/>
<rect x="1349.5" y="237.6" width="9" height="16.8" rx="2" fill="url(#gc8)"/>
<linearGradient id="gc9" gradientUnits="userSpaceOnUse" x1="0" y1="261.1" x2="0" y2="277.9"><stop offset="0.000" stop-color="#73b200" stop-opacity="0.011"/><stop offset="0.083" stop-color="#73b200" stop-opacity="0.044"/><stop offset="0.167" stop-color="#73b200" stop-opacity="0.135"/><stop offset="0.250" stop-color="#73b200" stop-opacity="0.325"/><stop offset="0.333" stop-color="#73b200" stop-opacity="0.607"/><stop offset="0.417" stop-color="#73b200" stop-opacity="0.882"/><stop offset="0.500" stop-color="#73b200" stop-opacity="1.000"/><stop offset="0.583" stop-color="#73b200" stop-opacity="0.882"/><stop offset="0.667" stop-color="#73b200" stop-opacity="0.607"/><stop offset="0.750" stop-color="#73b200" stop-opacity="0.325"/><stop offset="0.833" stop-color="#73b200" stop-opacity="0.135"/><stop offset="0.917" stop-color="#73b200" stop-opacity="0.044"/><stop offset="1.000" stop-color="#73b200" stop-opacity="0.011"/></linearGradient>
<rect x="1095" y="261.1" width="10" height="16.8" rx="2" fill="url(#gc9)"/>
<rect x="1114.5" y="261.1" width="10" height="16.8" rx="2" fill="url(#gc9)"/>
<rect x="1134" y="261.1" width="10" height="16.8" rx="2" fill="url(#gc9)"/>
<rect x="1153.5" y="261.1" width="10" height="16.8" rx="2" fill="url(#gc9)"/>
<rect x="1173" y="261.1" width="10" height="16.8" rx="2" fill="url(#gc9)"/>
<rect x="1192.5" y="261.1" width="10" height="16.8" rx="2" fill="url(#gc9)"/>
<rect x="1212" y="261.1" width="10" height="16.8" rx="2" fill="url(#gc9)"/>
<rect x="1231.5" y="261.1" width="10" height="16.8" rx="2" fill="url(#gc9)"/>
<rect x="1251" y="261.1" width="10" height="16.8" rx="2" fill="url(#gc9)"/>
<rect x="1270.5" y="261.1" width="10" height="16.8" rx="2" fill="url(#gc9)"/>
<rect x="1290" y="261.1" width="10" height="16.8" rx="2" fill="url(#gc9)"/>
<rect x="1309.5" y="261.1" width="10" height="16.8" rx="2" fill="url(#gc9)"/>
<rect x="1329" y="261.1" width="10" height="16.8" rx="2" fill="url(#gc9)"/>
<rect x="1348.5" y="261.1" width="10" height="16.8" rx="2" fill="url(#gc9)"/>
<linearGradient id="gc10" gradientUnits="userSpaceOnUse" x1="0" y1="259" x2="0" y2="280"><stop offset="0.000" stop-color="#cc4c00" stop-opacity="0.011"/><stop offset="0.083" stop-color="#cc4c00" stop-opacity="0.044"/><stop offset="0.167" stop-color="#cc4c00" stop-opacity="0.135"/><stop offset="0.250" stop-color="#cc4c00" stop-opacity="0.325"/><stop offset="0.333" stop-color="#cc4c00" stop-opacity="0.607"/><stop offset="0.417" stop-color="#cc4c00" stop-opacity="0.882"/><stop offset="0.500" stop-color="#cc4c00" stop-opacity="1.000"/><stop offset="0.583" stop-color="#cc4c00" stop-opacity="0.882"/><stop offset="0.667" stop-color="#cc4c00" stop-opacity="0.607"/><stop offset="0.750" stop-color="#cc4c00" stop-opacity="0.325"/><stop offset="0.833" stop-color="#cc4c00" stop-opacity="0.135"/><stop offset="0.917" stop-color="#cc4c00" stop-opacity="0.044"/><stop offset="1.000" stop-color="#cc4c00" stop-opacity="0.011"/></linearGradient>
<rect x="1172" y="259" width="8" height="21" rx="2" fill="url(#gc10)"/>
<rect x="1079" y="86" width="14" height="219.1" fill="#0d2400" opacity="0.8"/>
<rect x="1365" y="86" width="6" height="219.1" fill="#0d2400" opacity="0.5"/>
</g>
<rect x="1369" y="55" width="1.2" height="250.1" fill="#f4f6fb"/>
<path d="M1371,55 L1078.8,55 L1078.8,305.1 L1371,305.1" fill="none" stroke="#14145a" stroke-width="1"/>
<line x1="1371" y1="54.5" x2="1371" y2="305.6" stroke="#7a7a7a" stroke-width="1.1"/>
<line x1="1368" y1="255.08" x2="1371" y2="255.08" stroke="#505050" stroke-width="1"/>
<line x1="1368" y1="205.06" x2="1371" y2="205.06" stroke="#505050" stroke-width="1"/>
<line x1="1368" y1="155.04" x2="1371" y2="155.04" stroke="#505050" stroke-width="1"/>
<line x1="1368" y1="105.02" x2="1371" y2="105.02" stroke="#505050" stroke-width="1"/>
<text class="tk" x="1078.8" y="334.6" text-anchor="middle">0</text>
<text class="tk" x="1137.24" y="334.6" text-anchor="middle">2</text>
<text class="tk" x="1195.68" y="334.6" text-anchor="middle">4</text>
<text class="tk" x="1254.12" y="334.6" text-anchor="middle">6</text>
<text class="tk" x="1312.56" y="334.6" text-anchor="middle">8</text>
<text class="tk" x="1371" y="334.6" text-anchor="middle">10</text>
<text class="tk" x="1072.4" y="314.7" text-anchor="end">0</text>
<text class="tk" x="1072.4" y="264.68" text-anchor="end">200</text>
<text class="tk" x="1072.4" y="214.66" text-anchor="end">400</text>
<text class="tk" x="1072.4" y="164.64" text-anchor="end">600</text>
<text class="tk" x="1072.4" y="114.62" text-anchor="end">800</text>
<text class="tk" x="1072.4" y="64.6" text-anchor="end">1000</text>
<rect x="1413" y="45.6" width="17.5" height="267.9" fill="url(#jet)" stroke="#505050" stroke-width="0.7"/>
<line x1="1427.5" y1="250" x2="1430.5" y2="250" stroke="#333" stroke-width="0.8"/>
<text class="cb" x="1435.5" y="257.5">0.5</text>
<line x1="1427.5" y1="186.5" x2="1430.5" y2="186.5" stroke="#333" stroke-width="0.8"/>
<text class="cb" x="1435.5" y="194">1</text>
<line x1="1427.5" y1="123" x2="1430.5" y2="123" stroke="#333" stroke-width="0.8"/>
<text class="cb" x="1435.5" y="130.5">1.5</text>
<line x1="1427.5" y1="59.5" x2="1430.5" y2="59.5" stroke="#333" stroke-width="0.8"/>
<text class="cb" x="1435.5" y="67">2</text>
<text x="1430.4" y="42.1" style="font-size:29.5px">×</text>
<text class="cb" x="1447.9" y="37.9">10</text>
<text x="1470.7" y="26.7" style="font-size:16.5px">5</text>
<text class="lb" x="1126" y="23.5">Dominant frequency</text>
<text class="lb" x="1177" y="363.6">Time/<tspan font-style="italic">t</tspan>(s)</text>
<text class="lb" transform="translate(1022.6,267.2) rotate(-90)">Frequency <tspan font-style="italic" style="font-family:&quot;DejaVu Serif&quot;, serif;font-size:24.5px">f</tspan><tspan dx="-2">/Hz</tspan></text>
<text class="lb" transform="translate(1495,229.4) rotate(-90)">Amplitude</text>
<line x1="1233.2" y1="28" x2="1186.52" y2="248.99" stroke="#df1a22" stroke-width="2.1"/><path d="M1184.7,257.6 L1182.57,245.91 L1191.38,247.77 Z" fill="#df1a22"/>
<line x1="1235.6" y1="28" x2="1299.72" y2="228.22" stroke="#df1a22" stroke-width="2.1"/><path d="M1302.4,236.6 L1294.76,227.5 L1303.33,224.75 Z" fill="#df1a22"/>
<line x1="1240.3" y1="28.4" x2="1308.57" y2="58.91" stroke="#df1a22" stroke-width="2.1"/><path d="M1316.6,62.5 L1304.72,62.12 L1308.39,53.9 Z" fill="#df1a22"/>
<filter id="fd" filterUnits="userSpaceOnUse" x="1582.2" y="56.2" width="302.8" height="248.6" color-interpolation-filters="sRGB">
<feTurbulence type="fractalNoise" baseFrequency="0.7 0.08" numOctaves="2" seed="5" result="t"/>
<feColorMatrix in="t" type="matrix" values="1 0 0 0 0 1 0 0 0 0 1 0 0 0 0 0 0 0 0 1" result="n"/>
<feComponentTransfer in="n" result="ns"><feFuncR type="linear" slope="2.5" intercept="-0.75"/><feFuncG type="linear" slope="2.5" intercept="-0.75"/><feFuncB type="linear" slope="2.5" intercept="-0.75"/></feComponentTransfer>
<feComponentTransfer in="ns" result="ng"><feFuncR type="gamma" exponent="2.5"/><feFuncG type="gamma" exponent="2.5"/><feFuncB type="gamma" exponent="2.5"/></feComponentTransfer>
<feColorMatrix in="SourceGraphic" type="matrix" values="1 0 0 0 0 1 0 0 0 0 1 0 0 0 0 0 0 0 1 0" result="sa"/>
<feColorMatrix in="SourceGraphic" type="matrix" values="0 1 0 0 0 0 1 0 0 0 0 1 0 0 0 0 0 0 1 0" result="sb"/>
<feComposite in="sb" in2="ng" operator="arithmetic" k1="1" k2="0" k3="0" k4="0" result="pb"/>
<feComposite in="sa" in2="pb" operator="arithmetic" k1="0" k2="1" k3="1" k4="0" result="I1"/>
<feTurbulence type="fractalNoise" baseFrequency="0.35 0.12" numOctaves="2" seed="55" result="t2"/>
<feColorMatrix in="t2" type="matrix" values="1 0 0 0 0 1 0 0 0 0 1 0 0 0 0 0 0 0 0 1" result="n2"/>
<feComponentTransfer in="n2" result="ns2"><feFuncR type="linear" slope="2.5" intercept="-0.75"/><feFuncG type="linear" slope="2.5" intercept="-0.75"/><feFuncB type="linear" slope="2.5" intercept="-0.75"/></feComponentTransfer>
<feColorMatrix in="SourceGraphic" type="matrix" values="0 0 1 0 0 0 0 1 0 0 0 0 1 0 0 0 0 0 1 0" result="sc"/>
<feComposite in="sc" in2="ns2" operator="arithmetic" k1="1" k2="0" k3="0" k4="0" result="pc"/>
<feComposite in="I1" in2="pc" operator="arithmetic" k1="0" k2="1" k3="1" k4="0" result="I"/>
<feComponentTransfer in="I"><feFuncR type="table" tableValues="0 0 0 0 0.5 1 1 1 0.5"/><feFuncG type="table" tableValues="0 0 0.5 1 1 1 0.5 0 0"/><feFuncB type="table" tableValues="0.5 1 1 1 0.5 0 0 0 0"/></feComponentTransfer>
<feGaussianBlur stdDeviation="0.55"/>
</filter>
<g filter="url(#fd)">
<rect x="1582.2" y="56.2" width="302.8" height="248.6" fill="#1d2900"/>
<linearGradient id="gd0" gradientUnits="userSpaceOnUse" x1="0" y1="56" x2="0" y2="115"><stop offset="0" stop-color="#1a3d00" stop-opacity="1"/><stop offset="1" stop-color="#1a3d00" stop-opacity="0"/></linearGradient>
<rect x="1583" y="56" width="302" height="59" fill="url(#gd0)"/>
<linearGradient id="gd1" gradientUnits="userSpaceOnUse" x1="0" y1="235" x2="0" y2="300"><stop offset="0" stop-color="#1c4200" stop-opacity="0"/><stop offset="1" stop-color="#1c4200" stop-opacity="1"/></linearGradient>
<rect x="1583" y="235" width="302" height="65" fill="url(#gd1)"/>
<linearGradient id="gd2" gradientUnits="userSpaceOnUse" x1="0" y1="160.5" x2="0" y2="187.5"><stop offset="0.000" stop-color="#264700" stop-opacity="0.011"/><stop offset="0.083" stop-color="#264700" stop-opacity="0.044"/><stop offset="0.167" stop-color="#264700" stop-opacity="0.135"/><stop offset="0.250" stop-color="#264700" stop-opacity="0.325"/><stop offset="0.333" stop-color="#264700" stop-opacity="0.607"/><stop offset="0.417" stop-color="#264700" stop-opacity="0.882"/><stop offset="0.500" stop-color="#264700" stop-opacity="1.000"/><stop offset="0.583" stop-color="#264700" stop-opacity="0.882"/><stop offset="0.667" stop-color="#264700" stop-opacity="0.607"/><stop offset="0.750" stop-color="#264700" stop-opacity="0.325"/><stop offset="0.833" stop-color="#264700" stop-opacity="0.135"/><stop offset="0.917" stop-color="#264700" stop-opacity="0.044"/><stop offset="1.000" stop-color="#264700" stop-opacity="0.011"/></linearGradient>
<rect x="1596" y="160.5" width="289" height="27" fill="url(#gd2)"/>
<linearGradient id="gd3" gradientUnits="userSpaceOnUse" x1="0" y1="167.4" x2="0" y2="180.6"><stop offset="0.000" stop-color="#4c3366" stop-opacity="0.011"/><stop offset="0.083" stop-color="#4c3366" stop-opacity="0.044"/><stop offset="0.167" stop-color="#4c3366" stop-opacity="0.135"/><stop offset="0.250" stop-color="#4c3366" stop-opacity="0.325"/><stop offset="0.333" stop-color="#4c3366" stop-opacity="0.607"/><stop offset="0.417" stop-color="#4c3366" stop-opacity="0.882"/><stop offset="0.500" stop-color="#4c3366" stop-opacity="1.000"/><stop offset="0.583" stop-color="#4c3366" stop-opacity="0.882"/><stop offset="0.667" stop-color="#4c3366" stop-opacity="0.607"/><stop offset="0.750" stop-color="#4c3366" stop-opacity="0.325"/><stop offset="0.833" stop-color="#4c3366" stop-opacity="0.135"/><stop offset="0.917" stop-color="#4c3366" stop-opacity="0.044"/><stop offset="1.000" stop-color="#4c3366" stop-opacity="0.011"/></linearGradient>
<rect x="1596" y="167.4" width="289" height="13.2" fill="url(#gd3)"/>
<linearGradient id="gd4" gradientUnits="userSpaceOnUse" x1="0" y1="168" x2="0" y2="180"><stop offset="0.000" stop-color="#8c0073" stop-opacity="0.011"/><stop offset="0.083" stop-color="#8c0073" stop-opacity="0.044"/><stop offset="0.167" stop-color="#8c0073" stop-opacity="0.135"/><stop offset="0.250" stop-color="#8c0073" stop-opacity="0.325"/><stop offset="0.333" stop-color="#8c0073" stop-opacity="0.607"/><stop offset="0.417" stop-color="#8c0073" stop-opacity="0.882"/><stop offset="0.500" stop-color="#8c0073" stop-opacity="1.000"/><stop offset="0.583" stop-color="#8c0073" stop-opacity="0.882"/><stop offset="0.667" stop-color="#8c0073" stop-opacity="0.607"/><stop offset="0.750" stop-color="#8c0073" stop-opacity="0.325"/><stop offset="0.833" stop-color="#8c0073" stop-opacity="0.135"/><stop offset="0.917" stop-color="#8c0073" stop-opacity="0.044"/><stop offset="1.000" stop-color="#8c0073" stop-opacity="0.011"/></linearGradient>
<rect x="1598" y="168" width="4" height="12" rx="2" fill="url(#gd4)"/>
<rect x="1614" y="168" width="4" height="12" rx="2" fill="url(#gd4)"/>
<rect x="1622" y="168" width="4" height="12" rx="2" fill="url(#gd4)"/>
<rect x="1638" y="168" width="4" height="12" rx="2" fill="url(#gd4)"/>
<rect x="1647" y="168" width="4" height="12" rx="2" fill="url(#gd4)"/>
<rect x="1665" y="168" width="4" height="12" rx="2" fill="url(#gd4)"/>
<rect x="1676" y="168" width="4" height="12" rx="2" fill="url(#gd4)"/>
<rect x="1688" y="168" width="4" height="12" rx="2" fill="url(#gd4)"/>
<rect x="1705" y="168" width="4" height="12" rx="2" fill="url(#gd4)"/>
<rect x="1713" y="168" width="4" height="12" rx="2" fill="url(#gd4)"/>
<rect x="1729" y="168" width="4" height="12" rx="2" fill="url(#gd4)"/>
<rect x="1743" y="168" width="4" height="12" rx="2" fill="url(#gd4)"/>
<rect x="1751" y="168" width="4" height="12" rx="2" fill="url(#gd4)"/>
<rect x="1767" y="168" width="4" height="12" rx="2" fill="url(#gd4)"/>
<rect x="1782" y="168" width="4" height="12" rx="2" fill="url(#gd4)"/>
<rect x="1792" y="168" width="4" height="12" rx="2" fill="url(#gd4)"/>
<rect x="1806" y="168" width="4" height="12" rx="2" fill="url(#gd4)"/>
<rect x="1822" y="168" width="4" height="12" rx="2" fill="url(#gd4)"/>
<rect x="1830" y="168" width="4" height="12" rx="2" fill="url(#gd4)"/>
<rect x="1846" y="168" width="4" height="12" rx="2" fill="url(#gd4)"/>
<rect x="1855" y="168" width="4" height="12" rx="2" fill="url(#gd4)"/>
<rect x="1873" y="168" width="4" height="12" rx="2" fill="url(#gd4)"/>
<linearGradient id="gd5" gradientUnits="userSpaceOnUse" x1="0" y1="190" x2="0" y2="202"><stop offset="0.000" stop-color="#244000" stop-opacity="0.011"/><stop offset="0.083" stop-color="#244000" stop-opacity="0.044"/><stop offset="0.167" stop-color="#244000" stop-opacity="0.135"/><stop offset="0.250" stop-color="#244000" stop-opacity="0.325"/><stop offset="0.333" stop-color="#244000" stop-opacity="0.607"/><stop offset="0.417" stop-color="#244000" stop-opacity="0.882"/><stop offset="0.500" stop-color="#244000" stop-opacity="1.000"/><stop offset="0.583" stop-color="#244000" stop-opacity="0.882"/><stop offset="0.667" stop-color="#244000" stop-opacity="0.607"/><stop offset="0.750" stop-color="#244000" stop-opacity="0.325"/><stop offset="0.833" stop-color="#244000" stop-opacity="0.135"/><stop offset="0.917" stop-color="#244000" stop-opacity="0.044"/><stop offset="1.000" stop-color="#244000" stop-opacity="0.011"/></linearGradient>
<rect x="1596" y="190" width="289" height="12" fill="url(#gd5)"/>
<linearGradient id="gd6" gradientUnits="userSpaceOnUse" x1="0" y1="283" x2="0" y2="313"><stop offset="0.000" stop-color="#296673" stop-opacity="0.011"/><stop offset="0.083" stop-color="#296673" stop-opacity="0.044"/><stop offset="0.167" stop-color="#296673" stop-opacity="0.135"/><stop offset="0.250" stop-color="#296673" stop-opacity="0.325"/><stop offset="0.333" stop-color="#296673" stop-opacity="0.607"/><stop offset="0.417" stop-color="#296673" stop-opacity="0.882"/><stop offset="0.500" stop-color="#296673" stop-opacity="1.000"/><stop offset="0.583" stop-color="#296673" stop-opacity="0.882"/><stop offset="0.667" stop-color="#296673" stop-opacity="0.607"/><stop offset="0.750" stop-color="#296673" stop-opacity="0.325"/><stop offset="0.833" stop-color="#296673" stop-opacity="0.135"/><stop offset="0.917" stop-color="#296673" stop-opacity="0.044"/><stop offset="1.000" stop-color="#296673" stop-opacity="0.011"/></linearGradient>
<rect x="1596" y="283" width="289" height="30" fill="url(#gd6)"/>
<rect x="1583" y="56.2" width="13" height="248.4" fill="#123300" opacity="0.6"/>
</g>
<rect x="1883" y="56.2" width="1.2" height="248.6" fill="#f4f6fb"/>
<path d="M1885,56.2 L1582.2,56.2 L1582.2,304.8 L1885,304.8" fill="none" stroke="#14145a" stroke-width="1"/>
<line x1="1885" y1="55.7" x2="1885" y2="305.3" stroke="#7a7a7a" stroke-width="1.1"/>
<line x1="1882" y1="255.08" x2="1885" y2="255.08" stroke="#505050" stroke-width="1"/>
<line x1="1882" y1="205.36" x2="1885" y2="205.36" stroke="#505050" stroke-width="1"/>
<line x1="1882" y1="155.64" x2="1885" y2="155.64" stroke="#505050" stroke-width="1"/>
<line x1="1882" y1="105.92" x2="1885" y2="105.92" stroke="#505050" stroke-width="1"/>
<text class="tk" x="1582.2" y="335.3" text-anchor="middle">0</text>
<text class="tk" x="1642.76" y="335.3" text-anchor="middle">2</text>
<text class="tk" x="1703.32" y="335.3" text-anchor="middle">4</text>
<text class="tk" x="1763.88" y="335.3" text-anchor="middle">6</text>
<text class="tk" x="1824.44" y="335.3" text-anchor="middle">8</text>
<text class="tk" x="1885" y="335.3" text-anchor="middle">10</text>
<text class="tk" x="1575.3" y="313.2" text-anchor="end">0</text>
<text class="tk" x="1575.3" y="263.48" text-anchor="end">200</text>
<text class="tk" x="1575.3" y="213.76" text-anchor="end">400</text>
<text class="tk" x="1575.3" y="164.04" text-anchor="end">600</text>
<text class="tk" x="1575.3" y="114.32" text-anchor="end">800</text>
<text class="tk" x="1575.3" y="64.6" text-anchor="end">1000</text>
<rect x="1929.9" y="56.9" width="16.8" height="249.5" fill="url(#jet)" stroke="#505050" stroke-width="0.7"/>
<line x1="1943.7" y1="268" x2="1946.7" y2="268" stroke="#333" stroke-width="0.8"/>
<text class="cb" x="1951.7" y="275.5">0.5</text>
<line x1="1943.7" y1="229.5" x2="1946.7" y2="229.5" stroke="#333" stroke-width="0.8"/>
<text class="cb" x="1951.7" y="237">1</text>
<line x1="1943.7" y1="191.4" x2="1946.7" y2="191.4" stroke="#333" stroke-width="0.8"/>
<text class="cb" x="1951.7" y="198.9">1.5</text>
<line x1="1943.7" y1="151.7" x2="1946.7" y2="151.7" stroke="#333" stroke-width="0.8"/>
<text class="cb" x="1951.7" y="159.2">2</text>
<line x1="1943.7" y1="113.5" x2="1946.7" y2="113.5" stroke="#333" stroke-width="0.8"/>
<text class="cb" x="1951.7" y="121">2.5</text>
<line x1="1943.7" y1="75.1" x2="1946.7" y2="75.1" stroke="#333" stroke-width="0.8"/>
<text class="cb" x="1951.7" y="82.6">3</text>
<text x="1947.1" y="54" style="font-size:29.5px">×</text>
<text class="cb" x="1965" y="49.8">10</text>
<text x="1987.6" y="39" style="font-size:16.5px">5</text>
<text class="lb" x="1612.3" y="25.4">Dominant frequency</text>
<text class="lb" x="1688.5" y="363.7">Time/<tspan font-style="italic">t</tspan>(s)</text>
<text class="lb" transform="translate(1529.3,267.2) rotate(-90)">Frequency <tspan font-style="italic" style="font-family:&quot;DejaVu Serif&quot;, serif;font-size:24.5px">f</tspan><tspan dx="-2">/Hz</tspan></text>
<text class="lb" transform="translate(1999.2,228.8) rotate(-90)">Amplitude</text>
<line x1="1721.5" y1="35.2" x2="1625.9" y2="280.2" stroke="#df1a22" stroke-width="2.1"/><path d="M1622.7,288.4 L1622.51,276.52 L1630.89,279.79 Z" fill="#df1a22"/>
<line x1="1724.5" y1="35.2" x2="1827.04" y2="161.08" stroke="#df1a22" stroke-width="2.1"/><path d="M1832.6,167.9 L1822.16,162.21 L1829.14,156.53 Z" fill="#df1a22"/>
<text class="lb" x="75.5" y="392.3">(<tspan font-weight="bold">a</tspan>)<tspan dx="2.4">All-coal condition with coal</tspan></text>
<text class="lb" x="96.2" y="423">firmness coefficient of 2.38</text>
<text class="lb" x="588.8" y="392.3"><tspan font-weight="bold">(b)</tspan> All-rock condition with rock</text>
<text class="lb" x="623" y="424.2">firmness coefficient of 3.5</text>
<text class="lb" x="1043.2" y="401.1" font-weight="bold">(c)</text>
<text class="lb" x="1078.1" y="401.1" font-style="italic" style="font-family:'DejaVu Serif', serif;font-size:26px">f</text>
<text class="sb" x="1088.7" y="404.9">coal</text>
<text class="lb" x="1124.4" y="401.1">=</text>
<text class="lb" x="1146.8" y="401.1">3.8,</text>
<text class="lb" x="1191" y="401.1" font-style="italic" style="font-family:'DejaVu Serif', serif;font-size:26px">f</text>
<text class="sb" x="1207.1" y="404.9">rock</text>
<text class="lb" x="1245.8" y="401.1">=</text>
<text class="lb" x="1267.7" y="401.1">5.1,</text>
<text class="lb" x="1315.1" y="401.1">coal:</text>
<text class="lb" x="1373.6" y="401.1">rock</text>
<text class="lb" x="1428.1" y="401.1">=</text>
<text class="lb" x="1451.3" y="401.1">1:3</text>
<text class="lb" x="1547.1" y="397.4" font-weight="bold">(d)</text>
<text class="lb" x="1593.5" y="402.2" font-style="italic" style="font-family:'DejaVu Serif', serif;font-size:26px">f</text>
<text class="sb" x="1604" y="405.6">coal</text>
<text class="lb" x="1639.7" y="402.2">=</text>
<text class="lb" x="1663.4" y="402.2">1.4,</text>
<text class="lb" x="1705.8" y="402.2" font-style="italic" style="font-family:'DejaVu Serif', serif;font-size:26px">f</text>
<text class="sb" x="1722.5" y="405.6">rock</text>
<text class="lb" x="1760.9" y="402.2">=</text>
<text class="lb" x="1782.2" y="402.2">7.4,</text>
<text class="lb" x="1830.6" y="402.2">coal:</text>
<text class="lb" x="1888.5" y="402.2">rock</text>
<text class="lb" x="1942.9" y="402.2">=</text>
<text class="lb" x="1966.3" y="402.2">1:1</text>
</svg>
</body></html>
